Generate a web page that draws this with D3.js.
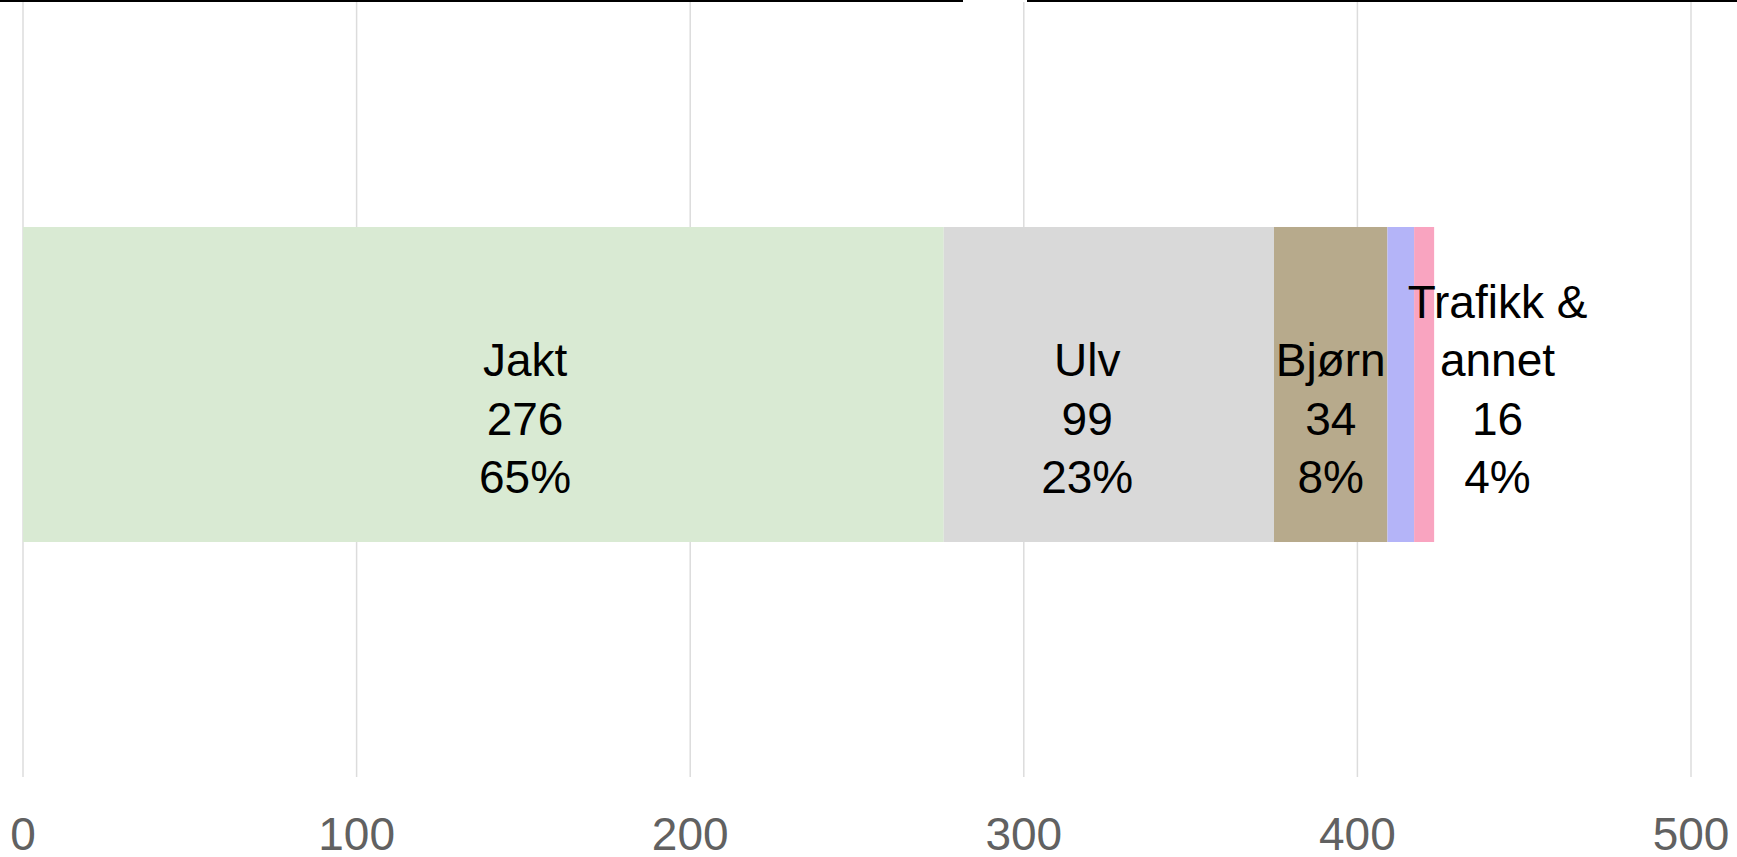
<!DOCTYPE html>
<html>
<head>
<meta charset="utf-8">
<script src="https://cdn.jsdelivr.net/npm/d3@7"></script>
<style>
  html, body { margin: 0; padding: 0; background: #fff; }
  svg { display: block; font-family: "Liberation Sans", Arial, sans-serif; }
</style>
</head>
<body>
<div id="chart"></div>
<script>
// stacked segments, left to right
var categories = ['Jakt', 'Ulv', 'Bjørn', 'Trafikk', 'Annet'];
var values = [276, 99, 34, 8, 6];
var colors = ['#d9ead3', '#d9d9d9', '#b7aa8c', '#b4b4f8', '#f9a4c0'];

// data labels
var labelNames = [['Jakt'], ['Ulv'], ['Bjørn'], ['Trafikk &', 'annet']];
var labelCounts = [276, 99, 34, 16];
var labelAt = [150.5, 319, 392, 442];

var tickValues = [0, 100, 200, 300, 400, 500];

var width = 1737, height = 857;

var svg = d3.select('#chart').append('svg')
  .attr('width', width)
  .attr('height', height);

var x = d3.scaleLinear().domain([0, 500]).range([23, 1691]);
var y = d3.scaleBand().domain(['row']).range([0, 769]).padding(0.4188);

// header rules (cut off at the top)
svg.append('rect').attr('x', 0).attr('y', 0).attr('width', 963).attr('height', 2).attr('fill', '#000');
svg.append('rect').attr('x', 1027).attr('y', 0).attr('width', width - 1027).attr('height', 2).attr('fill', '#000');

// grid
svg.selectAll('line.grid')
  .data(tickValues)
  .enter().append('line')
  .attr('class', 'grid')
  .attr('x1', function (d) { return x(d); })
  .attr('x2', function (d) { return x(d); })
  .attr('y1', 2)
  .attr('y2', 777)
  .attr('stroke', '#dcdcdc')
  .attr('stroke-width', 1.5);

// stacked bar
var row = {};
categories.forEach(function (c, i) { row[c] = values[i]; });
var series = d3.stack().keys(categories)([row]);

svg.selectAll('rect.seg')
  .data(series)
  .enter().append('rect')
  .attr('class', 'seg')
  .attr('x', function (d) { return x(d[0][0]); })
  .attr('width', function (d) { return x(d[0][1]) - x(d[0][0]); })
  .attr('y', y('row'))
  .attr('height', y.bandwidth())
  .attr('fill', function (d, i) { return colors[i]; });

// labels: lines stacked upward from a common last baseline
var total = d3.sum(labelCounts);
var lineH = 58.3;
var lastBase = 493;
var fmt = d3.format('.0%');

labelNames.forEach(function (names, i) {
  var lines = names.concat([String(labelCounts[i]), fmt(labelCounts[i] / total)]);
  var t = svg.append('text')
    .attr('text-anchor', 'middle')
    .attr('font-size', 46)
    .attr('fill', '#000');
  lines.forEach(function (s, j) {
    t.append('tspan')
      .attr('x', x(labelAt[i]))
      .attr('y', lastBase - (lines.length - 1 - j) * lineH)
      .text(s);
  });
});

// axis labels
svg.selectAll('text.tick')
  .data(tickValues)
  .enter().append('text')
  .attr('class', 'tick')
  .attr('x', function (d) { return x(d); })
  .attr('y', 850)
  .attr('text-anchor', 'middle')
  .attr('font-size', 46)
  .attr('fill', '#616161')
  .text(function (d) { return d; });
</script>
</body>
</html>
